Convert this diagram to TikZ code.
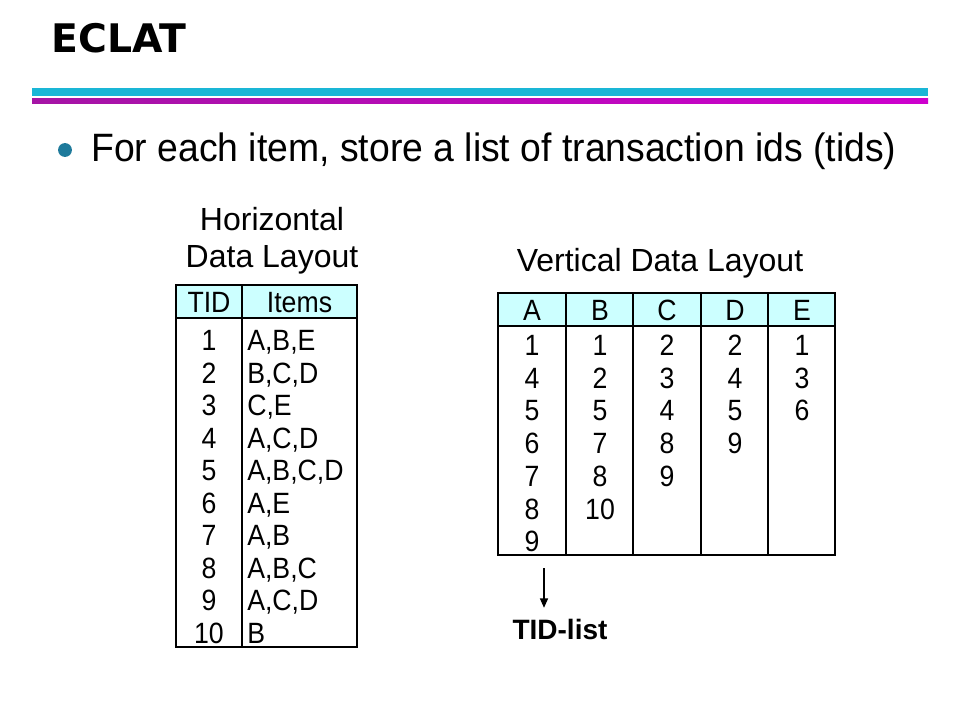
\documentclass[tikz,border=0pt]{standalone}
\usepackage{graphicx}
\usepackage{fontspec}
\setmainfont{Liberation Sans}
\newfontfamily\titlefont{DejaVu Sans}
\usetikzlibrary{arrows.meta}
\newcommand{\vstretch}[1]{\scalebox{1}[1.1]{#1}}
\definecolor{barcyan}{RGB}{26,182,214}
\definecolor{barmagL}{RGB}{165,20,165}
\definecolor{barmagM}{RGB}{235,0,235}
\definecolor{barmagR}{RGB}{205,0,205}
\definecolor{hdrfill}{RGB}{204,255,255}
\definecolor{bullteal}{RGB}{30,122,155}
\begin{document}
\begin{tikzpicture}[x=0.75pt,y=-0.75pt,
  caption/.style={anchor=base,inner sep=0pt,font=\fontsize{24}{28}\selectfont},
  cell/.style={anchor=base,inner sep=0pt,font=\fontsize{20}{24}\selectfont},
  lcell/.style={cell,anchor=base west},
  gridline/.style={line width=1.1pt,black},
  ]
\useasboundingbox (0,0) rectangle (960,720);
\fill[white] (0,0) rectangle (960,720);
% title and bars
\node[anchor=base west,inner sep=0pt,font=\titlefont\bfseries\fontsize{29.5}{34}\selectfont] (title) at (51,53) {ECLAT};
\fill[barcyan] (32,88) rectangle (928,96);
\shade[left color=barmagL,middle color=barmagM,right color=barmagR] (32,99) rectangle (928,104);
% bullet
\fill[bullteal] (65,150) circle (5.2pt);
\node[anchor=base west,inner sep=0pt,font=\fontsize{28}{32}\selectfont] (bullet) at (91,162) {\scalebox{1}[1.06]{For each item, store a list of transaction ids (tids)}};
% horizontal layout
\node[caption] (hcap1) at (272,231) {Horizontal};
\node[caption] (hcap2) at (272,268) {Data Layout};
\fill[hdrfill] (176,285) rectangle (357,318);
\draw[gridline] (176,285) rectangle (357,647);
\draw[gridline] (176,318) -- (357,318);
\draw[gridline] (242,285) -- (242,647);
\node[cell] (htid) at (209,312.5) {\vstretch{TID}};
\node[cell] (hitems) at (299.5,312.5) {\vstretch{Items}};
\foreach \it [count=\i] in {{A,B,E},{B,C,D},{C,E},{A,C,D},{A,B,C,D},{A,E},{A,B},{A,B,C},{A,C,D},{B}}{
  \node[cell] (ht\i) at (209,{350.5+32.5*(\i-1)}) {\vstretch{\i}};
  \node[lcell] (hi\i) at (247,{350.5+32.5*(\i-1)}) {\vstretch{\it}};
}
% vertical layout
\node[caption] (vcap) at (660,272) {Vertical Data Layout};
\fill[hdrfill] (498,293) rectangle (835,326);
\draw[gridline] (498,293) rectangle (835,555);
\draw[gridline] (498,326) -- (835,326);
\foreach \x in {566,633,701,768} \draw[gridline] (\x,293) -- (\x,555);
\foreach \h/\x/\lst in {A/532/{1,4,5,6,7,8,9},B/600/{1,2,5,7,8,10},C/667/{2,3,4,8,9},D/735/{2,4,5,9},E/802/{1,3,6}}{
  \node[cell] (vh\h) at (\x,320.5) {\vstretch{\h}};
  \foreach \v [count=\j] in \lst {
    \node[cell] (v\h\j) at (\x,{355.5+32.7*(\j-1)}) {\vstretch{\v}};
  }
}
% TID-list arrow
\coordinate (arrS) at (544,568);
\node[anchor=base,inner sep=0pt,font=\bfseries\fontsize{21}{25}\selectfont] (tidlist) at (560,639) {TID-list};
\draw[line width=0.9pt,-{Triangle[length=7pt,width=6pt]},shorten >=8pt] (arrS) -- (arrS |- tidlist.north);
\end{tikzpicture}
\end{document}
